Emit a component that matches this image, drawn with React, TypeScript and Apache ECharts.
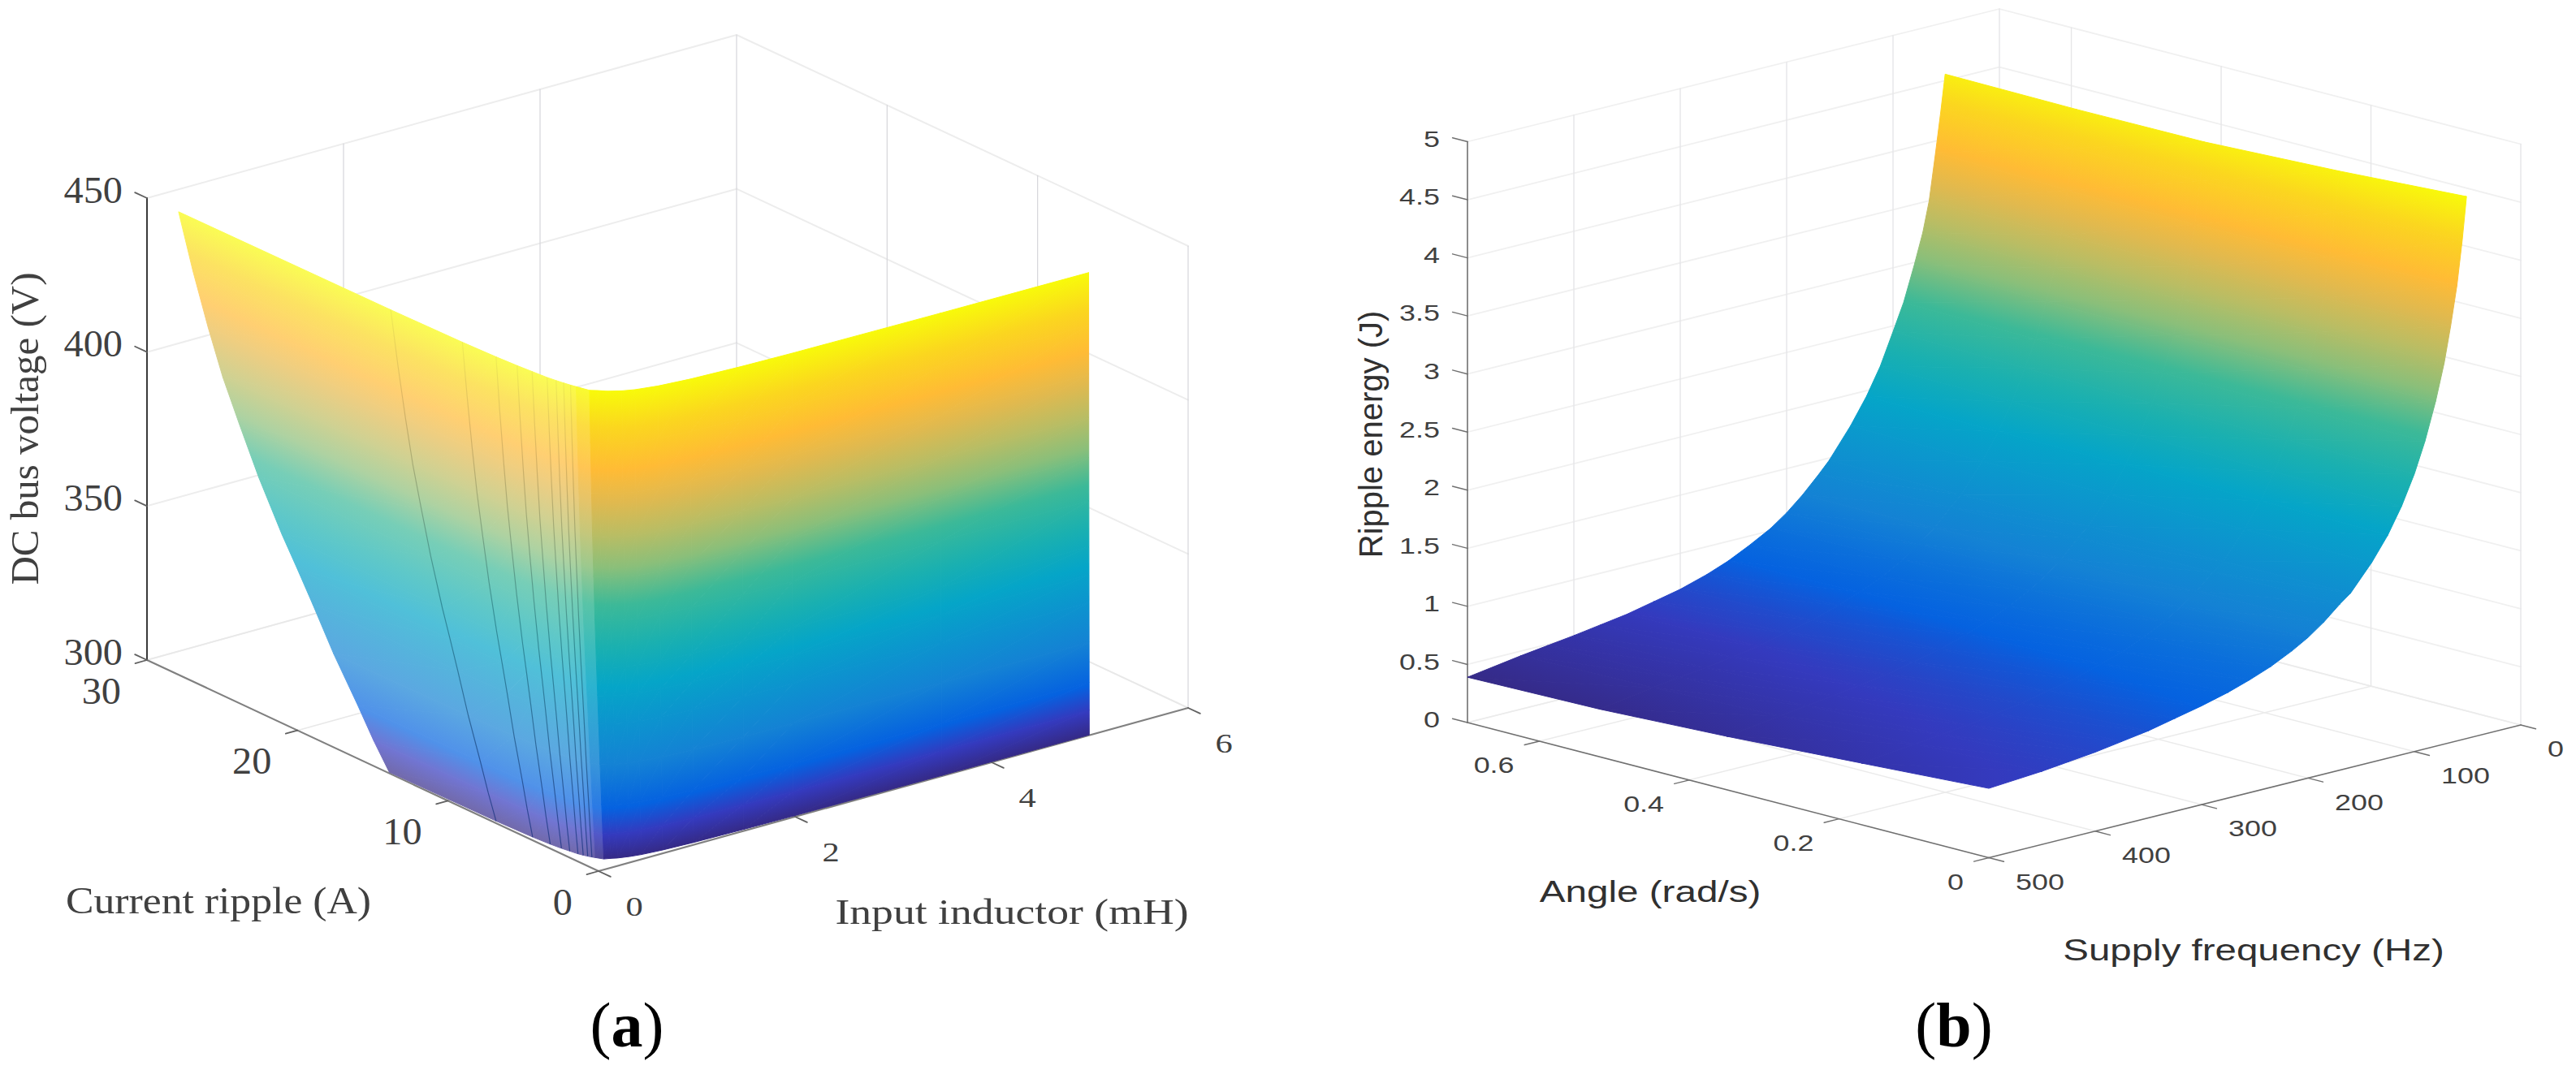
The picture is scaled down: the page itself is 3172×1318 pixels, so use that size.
import React, { useEffect, useRef } from "react";
import * as echarts from "echarts";

/* ---------- values ---------- */
// Panel (a)
const voltageTicks = [300, 350, 400, 450];
const rippleTicks = [0, 10, 20, 30];
const inductorTicks = [0, 2, 4, 6];
const inductorSamples = [0.015, 0.03, 0.045, 0.06, 0.075, 0.09, 0.105, 0.12, 0.135, 0.15, 0.165, 0.2, 0.25, 0.3, 0.4, 0.5, 0.7, 1, 1.5, 2, 3.5, 5];
const rippleAt300V = [14, 7, 4.67, 3.6, 2.95, 2.5, 2.05, 1.8, 1.6, 1.42, 1.28, 0.95, 0.84, 0.7, 0.53, 0.42, 0.3, 0.21, 0.14, 0.105, 0.06, 0.04];
const voltageRows = [300, 308, 317, 330, 343, 352, 361, 376, 390, 403, 417, 433, 450];
const rippleGrowth = [1, 1.075, 1.15, 1.264, 1.364, 1.436, 1.51, 1.62, 1.71, 1.79, 1.86, 1.932, 2];
const washedColumns = [0.3, 0.3, 0.3, 0.3, 0.3, 0.3, 0.3, 0.3, 0.28, 0.25, 0.15, 0, 0, 0, 0, 0, 0, 0, 0, 0, 0];
const meshLineColumns = [1, 2, 3, 4, 5, 6, 7, 8, 9];

// Panel (b)
const energyTicks = [0, 0.5, 1, 1.5, 2, 2.5, 3, 3.5, 4, 4.5, 5];
const energyTickLabels = ["0", "0.5", "1", "1.5", "2", "2.5", "3", "3.5", "4", "4.5", "5"];
const angleTicks = [0, 0.2, 0.4, 0.6];
const angleTickLabels = ["0", "0.2", "0.4", "0.6"];
const frequencyTicks = [0, 100, 200, 300, 400, 500];
const angleSamples = [0, 0.17, 0.35, 0.52, 0.696];
const frequencySamples = [51, 55, 60, 66, 72, 80, 90, 100, 112, 125, 140, 160, 170, 185, 200, 215, 235, 255, 275, 300, 325, 350, 375, 400, 425, 450, 500];
const energyAt051 = [4.665, 4.6, 4.55, 4.545, 4.555];
const energyAt055 = [4.3, 4.25, 4.22, 4.22, 4.25];
const energyAt060 = [3.92, 3.88, 3.86, 3.87, 3.9];
const energyAt066 = [3.58, 3.54, 3.51, 3.5, 3.5];
const energyAt072 = [3.28, 3.26, 3.24, 3.23, 3.24];
const energyAt080 = [2.97, 2.96, 2.95, 2.96, 2.98];
const energyAt090 = [2.65, 2.65, 2.65, 2.66, 2.68];
const energyAt100 = [2.39, 2.4, 2.41, 2.43, 2.45];
const energyAt112 = [2.14, 2.15, 2.16, 2.17, 2.18];
const energyAt125 = [1.92, 1.93, 1.94, 1.94, 1.95];
const energyAt140 = [1.72, 1.72, 1.72, 1.72, 1.73];
const energyAt160 = [1.5, 1.49, 1.49, 1.48, 1.48];
const energyAt170 = [1.43, 1.42, 1.41, 1.39, 1.38];
const energyAt185 = [1.31, 1.29, 1.27, 1.25, 1.24];
const energyAt200 = [1.21, 1.19, 1.16, 1.14, 1.12];
const energyAt215 = [1.13, 1.1, 1.07, 1.04, 1.02];
const energyAt235 = [1.04, 1.01, 0.97, 0.94, 0.92];
const energyAt255 = [0.97, 0.93, 0.89, 0.86, 0.83];
const energyAt275 = [0.91, 0.87, 0.82, 0.79, 0.76];
const energyAt300 = [0.85, 0.8, 0.75, 0.72, 0.69];
const energyAt325 = [0.8, 0.75, 0.7, 0.67, 0.64];
const energyAt350 = [0.75, 0.7, 0.65, 0.61, 0.59];
const energyAt375 = [0.715, 0.665, 0.615, 0.575, 0.555];
const energyAt400 = [0.68, 0.63, 0.58, 0.54, 0.52];
const energyAt425 = [0.655, 0.605, 0.55, 0.51, 0.49];
const energyAt450 = [0.63, 0.58, 0.52, 0.48, 0.46];
const energyAt500 = [0.597, 0.53, 0.46, 0.41, 0.39];
const energyRows = [energyAt051, energyAt055, energyAt060, energyAt066, energyAt072, energyAt080, energyAt090, energyAt100, energyAt112, energyAt125, energyAt140, energyAt160, energyAt170, energyAt185, energyAt200, energyAt215, energyAt235, energyAt255, energyAt275, energyAt300, energyAt325, energyAt350, energyAt375, energyAt400, energyAt425, energyAt450, energyAt500];

// Colormap seen in the picture (position, r, g, b)
const colormap: number[][] = [
  [0, 53, 42, 135],
  [0.05, 52, 58, 190],
  [0.107, 5, 98, 224],
  [0.2, 20, 130, 212],
  [0.365, 5, 165, 200],
  [0.45, 26, 176, 176],
  [0.54, 60, 185, 152],
  [0.62, 138, 191, 122],
  [0.69, 185, 189, 100],
  [0.76, 224, 185, 79],
  [0.83, 255, 187, 53],
  [0.92, 251, 214, 31],
  [1, 248, 250, 10],
];

/* ---------- projections of the two 3D boxes ---------- */
type Box = {
  origin: number[];
  xEnd: number[];
  yEnd: number[];
  xRange: number[];
  yRange: number[];
  zRange: number[];
  zPixels: number;
  wallX: number;
};
const boxA: Box = { origin: [737, 1073], xEnd: [1463, 872], yEnd: [181, 813], xRange: [0, 6], yRange: [0, 30], zRange: [300, 450], zPixels: 569, wallX: 6 };
const boxB: Box = { origin: [3104, 893], xEnd: [2449, 1056.5], yEnd: [2462, 726.5], xRange: [0, 500], yRange: [0, 0.696], zRange: [0, 5], zPixels: 715.5, wallX: 0 };

function project(b: Box, x: number, y: number, z: number) {
  const fx = (x - b.xRange[0]) / (b.xRange[1] - b.xRange[0]);
  const fy = (y - b.yRange[0]) / (b.yRange[1] - b.yRange[0]);
  const fz = (z - b.zRange[0]) / (b.zRange[1] - b.zRange[0]);
  return [
    b.origin[0] + fx * (b.xEnd[0] - b.origin[0]) + fy * (b.yEnd[0] - b.origin[0]),
    b.origin[1] + fx * (b.xEnd[1] - b.origin[1]) + fy * (b.yEnd[1] - b.origin[1]) - fz * b.zPixels,
  ];
}

function colorAt(t: number, wash: number) {
  const v = Math.max(0, Math.min(1, t));
  let k = 0;
  while (k < colormap.length - 2 && v > colormap[k + 1][0]) k++;
  const p = colormap[k];
  const q = colormap[k + 1];
  const f = (v - p[0]) / (q[0] - p[0]);
  const mix = [1, 2, 3].map((i) => {
    const c = p[i] + (q[i] - p[i]) * f;
    return Math.round(c + (255 - c) * wash);
  });
  return `rgb(${mix[0]},${mix[1]},${mix[2]})`;
}

/* ---------- triangles of a surface ---------- */
function trianglesFromMesh(px: number[][][], washOf: (c: number) => number) {
  const out: number[][] = [];
  for (let r = 0; r < px.length - 1; r++) {
    for (let c = 0; c < px[r].length - 1; c++) {
      const a = px[r][c], b = px[r][c + 1], d = px[r + 1][c], e = px[r + 1][c + 1];
      const w = washOf(c);
      out.push([...a, ...b, ...e, w]);
      out.push([...a, ...e, ...d, w]);
    }
  }
  return out;
}

const meshA = voltageRows.map((v, r) =>
  inductorSamples.map((l, c) => [l, rippleAt300V[c] * rippleGrowth[r], v])
);
const meshB = frequencySamples.map((f, r) =>
  angleSamples.map((a, c) => [f, a, energyRows[r][c]])
);

function surfaceSeries(name: string, box: Box, mesh: number[][][], washOf: (c: number) => number, zMin: number, zMax: number) {
  return {
    type: "custom",
    name,
    coordinateSystem: "cartesian2d",
    clip: false,
    silent: true,
    progressive: 0,
    encode: { x: 0, y: 1 },
    data: trianglesFromMesh(mesh, washOf),
    renderItem: (_: any, api: any) => {
      const raw = [0, 3, 6].map((i) => [api.value(i), api.value(i + 1), api.value(i + 2)]);
      const wash = api.value(9);
      const pts = raw.map((p) => {
        const s = project(box, p[0], p[1], p[2]);
        return api.coord(s);
      });
      const zs = raw.map((p) => p[2]);
      const [x0, y0] = pts[0], [x1, y1] = pts[1], [x2, y2] = pts[2];
      const det = (x1 - x0) * (y2 - y0) - (x2 - x0) * (y1 - y0);
      if (Math.abs(det) < 1e-6) return null;
      const lo = Math.min(...zs), hi = Math.max(...zs);
      const toT = (z: number) => (z - zMin) / (zMax - zMin);
      let paint: any = colorAt(toT((lo + hi) / 2), wash);
      if (hi - lo > 1e-9) {
        const ga = ((zs[1] - zs[0]) * (y2 - y0) - (zs[2] - zs[0]) * (y1 - y0)) / det;
        const gb = ((x1 - x0) * (zs[2] - zs[0]) - (x2 - x0) * (zs[1] - zs[0])) / det;
        const g2 = ga * ga + gb * gb;
        const start = pts[zs.indexOf(lo)];
        const end = [start[0] + (ga / g2) * (hi - lo), start[1] + (gb / g2) * (hi - lo)];
        const tLo = toT(lo), tHi = toT(hi);
        const stops = [{ offset: 0, color: colorAt(tLo, wash) }];
        colormap.forEach((m) => {
          if (m[0] > tLo && m[0] < tHi) stops.push({ offset: (m[0] - tLo) / (tHi - tLo), color: colorAt(m[0], wash) });
        });
        stops.push({ offset: 1, color: colorAt(tHi, wash) });
        paint = new echarts.graphic.LinearGradient(start[0], start[1], end[0], end[1], stops, true);
      }
      return {
        type: "polygon",
        silent: true,
        shape: { points: pts },
        style: { fill: paint, stroke: paint, lineWidth: 1, lineJoin: "round" },
      };
    },
  };
}

/* ---------- box lines: walls, floor, axes, tick marks ---------- */
type Seg = number[]; // x1,y1,z1,x2,y2,z2
function boxSegments(b: Box, xT: number[], yT: number[], zT: number[]) {
  const [x0, x1] = b.xRange, [y0, y1] = b.yRange, [z0, z1] = b.zRange;
  const w = b.wallX;
  const pale: Seg[] = [];
  const vertical: Seg[] = [];
  const floor: Seg[] = [];
  zT.forEach((z) => {
    pale.push([x0, y1, z, x1, y1, z]);
    pale.push([w, y0, z, w, y1, z]);
  });
  xT.forEach((x) => {
    if (x !== x0 && x !== x1) {
      vertical.push([x, y1, z0, x, y1, z1]);
      floor.push([x, y0, z0, x, y1, z0]);
    }
  });
  yT.forEach((y) => {
    if (y !== y0 && y !== y1) {
      vertical.push([w, y, z0, w, y, z1]);
      floor.push([x0, y, z0, x1, y, z0]);
    }
  });
  vertical.push([w, y1, z0, w, y1, z1]);
  vertical.push([w, y0, z0, w, y0, z1]);
  floor.push([x0, y1, z0, x1, y1, z0]);
  floor.push([w, y0, z0, w, y1, z0]);
  return { pale, vertical, floor };
}

function lineSeries(name: string, box: Box, segs: Seg[], color: string, width: number) {
  return {
    type: "custom",
    name,
    coordinateSystem: "cartesian2d",
    clip: false,
    silent: true,
    encode: { x: 0, y: 1 },
    data: segs,
    renderItem: (_: any, api: any) => {
      const a = api.coord(project(box, api.value(0), api.value(1), api.value(2)));
      const b = api.coord(project(box, api.value(3), api.value(4), api.value(5)));
      return {
        type: "line",
        silent: true,
        shape: { x1: a[0], y1: a[1], x2: b[0], y2: b[1] },
        style: { stroke: color, lineWidth: width, lineCap: "round" },
      };
    },
  };
}

type Lab = { x: number; y: number; z: number; text: string };
function labelSeries(
  name: string, box: Box, labels: Lab[], dx: number, dy: number, align: string,
  family: string, size: number, fill: string, sx: number
) {
  return {
    type: "custom",
    name,
    coordinateSystem: "cartesian2d",
    clip: false,
    silent: true,
    encode: { x: 0, y: 1 },
    data: labels.map((l) => [l.x, l.y, l.z]),
    renderItem: (p: any, api: any) => {
      const c = api.coord(project(box, api.value(0), api.value(1), api.value(2)));
      return {
        type: "text",
        silent: true,
        x: c[0] + dx,
        y: c[1] + dy,
        scaleX: sx,
        style: {
          text: labels[p.dataIndex].text,
          fontFamily: family,
          fontSize: size,
          fill,
          align,
          verticalAlign: "middle",
        },
      };
    },
  };
}

/* ---------- the fan of dark mesh lines in panel (a) ---------- */
const meshLines = {
  type: "custom",
  name: "Mesh lines",
  coordinateSystem: "cartesian2d",
  clip: false,
  silent: true,
  encode: { x: 0, y: 0 },
  data: meshLineColumns.map((c) => [c]),
  renderItem: (_: any, api: any) => {
    const c = api.value(0);
    const pts = meshA.map((row) => api.coord(project(boxA, row[c][0], row[c][1], row[c][2])));
    const first = pts[0], last = pts[pts.length - 1];
    return {
      type: "polyline",
      silent: true,
      shape: { points: pts },
      style: {
        fill: "none",
        lineWidth: 1.2,
        stroke: new echarts.graphic.LinearGradient(first[0], first[1], last[0], last[1], [
          { offset: 0, color: "rgba(25,50,130,0.75)" },
          { offset: 0.45, color: "rgba(20,100,110,0.55)" },
          { offset: 0.8, color: "rgba(130,110,50,0.3)" },
          { offset: 1, color: "rgba(150,130,60,0.1)" },
        ], true),
      },
    };
  },
};

/* ---------- assembling ---------- */
const SERIF = "Liberation Serif";
const SANS = "Liberation Sans";
const segA = boxSegments(boxA, inductorTicks, rippleTicks, voltageTicks);
const segB = boxSegments(boxB, frequencyTicks, angleTicks, energyTicks);

const axisA: Seg[] = [
  [0, 30, 300, 0, 30, 450],
];
const baseA: Seg[] = [
  [0, 0, 300, 6, 0, 300],
  [0, 0, 300, 0, 30, 300],
];
const axisB: Seg[] = [
  [500, 0.696, 0, 500, 0.696, 5],
];
const baseB: Seg[] = [
  [0, 0, 0, 500, 0, 0],
  [500, 0, 0, 500, 0.696, 0],
];
const ticksA: Seg[] = [
  ...voltageTicks.map((v) => [0, 30, v, 0, 30.8, v]),
  ...rippleTicks.map((i) => [0, i, 300, -0.12, i, 300]),
  ...inductorTicks.map((l) => [l, 0, 300, l, -0.8, 300]),
];
const ticksB: Seg[] = [
  ...energyTicks.map((e) => [500, 0.696, e, 500, 0.716, e]),
  ...angleTicks.map((a) => [500, a, 0, 514, a, 0]),
  ...frequencyTicks.map((f) => [f, 0, 0, f, -0.02, 0]),
];

const option: any = {
  animation: false,
  backgroundColor: "#ffffff",
  grid: { left: 0, top: 0, width: 3172, height: 1318, containLabel: false },
  xAxis: { type: "value", min: 0, max: 3172, show: false },
  yAxis: { type: "value", min: 0, max: 1318, inverse: true, show: false },
  series: [
    lineSeries("Walls a", boxA, segA.pale, "#ededed", 2),
    lineSeries("Floor a", boxA, segA.floor, "#e8e8e8", 1.5),
    lineSeries("Verticals a", boxA, segA.vertical, "#d6d6da", 1.2),
    lineSeries("Axis a", boxA, axisA, "#3a3a3a", 2),
    lineSeries("Base a", boxA, baseA, "#808080", 2.2),
    lineSeries("Ticks a", boxA, ticksA, "#606060", 1.8),
    surfaceSeries("DC bus voltage surface", boxA, meshA, (c) => washedColumns[c], 300, 450),
    meshLines,
    labelSeries("Voltage ticks", boxA, voltageTicks.map((v) => ({ x: 0, y: 30, z: v, text: String(v) })), -30, -10, "right", SERIF, 46, "#404040", 1.05),
    labelSeries("Ripple ticks", boxA, rippleTicks.map((i) => ({ x: 0, y: i, z: 300, text: String(i) })), -32, 38, "right", SERIF, 46, "#404040", 1.05),
    labelSeries("Inductor ticks", boxA, inductorTicks.map((l) => ({ x: l, y: 0, z: 300, text: String(l) })), 44, 44, "center", SERIF, 34, "#404040", 1.25),

    lineSeries("Walls b", boxB, segB.pale, "#f0f0f0", 1.8),
    lineSeries("Floor b", boxB, segB.floor, "#ebebeb", 1.5),
    lineSeries("Verticals b", boxB, segB.vertical, "#e6e6e8", 1.4),
    lineSeries("Axis b", boxB, axisB, "#707070", 1.6),
    lineSeries("Base b", boxB, baseB, "#707070", 1.6),
    lineSeries("Ticks b", boxB, ticksB, "#707070", 1.4),
    surfaceSeries("Ripple energy surface", boxB, meshB, () => 0, 0.39, 4.665),
    labelSeries("Energy ticks", boxB, energyTicks.map((e, k) => ({ x: 500, y: 0.696, z: e, text: energyTickLabels[k] })), -34, -3, "right", SANS, 27, "#404040", 1.33),
    labelSeries("Angle ticks", boxB, angleTicks.map((a, k) => ({ x: 500, y: a, z: 0, text: angleTickLabels[k] })), -31, 30, "right", SANS, 27, "#404040", 1.33),
    labelSeries("Frequency ticks", boxB, frequencyTicks.map((f) => ({ x: f, y: 0, z: 0, text: String(f) })), 33, 30, "left", SANS, 27, "#404040", 1.33),
  ],
  graphic: {
    elements: [
      { type: "text", silent: true, x: 30, y: 528, rotation: Math.PI / 2, style: { text: "DC bus voltage (V)", fontFamily: SERIF, fontSize: 49, fill: "#404040", align: "center", verticalAlign: "middle" } },
      { type: "text", silent: true, x: 269, y: 1109, scaleX: 1.1, style: { text: "Current ripple (A)", fontFamily: SERIF, fontSize: 47, fill: "#404040", align: "center", verticalAlign: "middle" } },
      { type: "text", silent: true, x: 1246, y: 1123, scaleX: 1.22, style: { text: "Input inductor (mH)", fontFamily: SERIF, fontSize: 44, fill: "#404040", align: "center", verticalAlign: "middle" } },
      { type: "text", silent: true, x: 1688, y: 535, rotation: Math.PI / 2, style: { text: "Ripple energy (J)", fontFamily: SANS, fontSize: 40, fill: "#303030", align: "center", verticalAlign: "middle" } },
      { type: "text", silent: true, x: 2032, y: 1098, scaleX: 1.27, style: { text: "Angle (rad/s)", fontFamily: SANS, fontSize: 37.5, fill: "#303030", align: "center", verticalAlign: "middle" } },
      { type: "text", silent: true, x: 2775, y: 1170, scaleX: 1.3, style: { text: "Supply frequency (Hz)", fontFamily: SANS, fontSize: 36.5, fill: "#303030", align: "center", verticalAlign: "middle" } },
      { type: "text", silent: true, x: 772, y: 1262, style: { text: "{n|(}{b|a}{n|)}", align: "center", verticalAlign: "middle", rich: { n: { fontFamily: SERIF, fontSize: 78, fill: "#000" }, b: { fontFamily: SERIF, fontSize: 78, fontWeight: "bold", fill: "#000" } } } },
      { type: "text", silent: true, x: 2406, y: 1262, style: { text: "{n|(}{b|b}{n|)}", align: "center", verticalAlign: "middle", rich: { n: { fontFamily: SERIF, fontSize: 78, fill: "#000" }, b: { fontFamily: SERIF, fontSize: 78, fontWeight: "bold", fill: "#000" } } } },
    ],
  },
};

export default function App() {
  const ref = useRef<HTMLDivElement>(null);
  useEffect(() => {
    document.body.style.margin = "0";
    const chart = echarts.init(ref.current!, undefined, { renderer: "svg" });
    chart.setOption(option);
    return () => chart.dispose();
  }, []);
  return <div ref={ref} style={{ width: 3172, height: 1318 }} />;
}
